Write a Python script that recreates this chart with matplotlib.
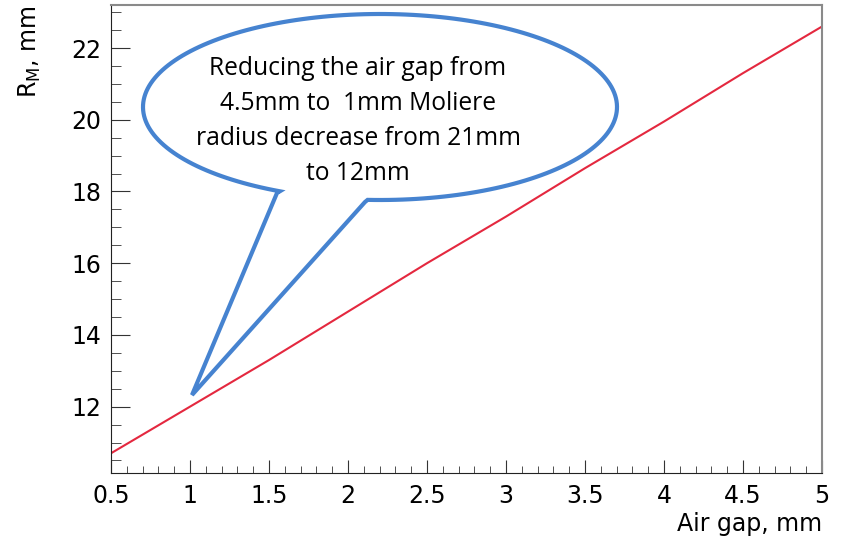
import numpy as np
import matplotlib
matplotlib.use("Agg")
import matplotlib.pyplot as plt
from matplotlib.path import Path
from matplotlib.patches import PathPatch

# data
air_gap = [0.5, 1.0, 1.5, 2.0, 2.5, 3.0, 3.5, 4.0, 4.5, 5.0]
r_moliere = [10.7, 12.0, 13.3, 14.65, 16.0, 17.3, 18.65, 19.95, 21.3, 22.6]
x_ticks = [0.5, 1, 1.5, 2, 2.5, 3, 3.5, 4, 4.5, 5]
x_ticklabels = ["0.5", "1", "1.5", "2", "2.5", "3", "3.5", "4", "4.5", "5"]
y_ticks = [12, 14, 16, 18, 20, 22]
bubble_lines = ["Reducing the air gap from", "4.5mm to  1mm Moliere",
                "radius decrease from 21mm", "to 12mm"]

W, H = 851, 541
fig = plt.figure(figsize=(W / 100, H / 100), dpi=100)
ax = fig.add_axes([111 / W, 1 - 473 / H, 711 / W, 468 / H])

ax.plot(air_gap, r_moliere, color="#e4283f", lw=1.5)
ax.set_xlim(0.5, 5)
ax.set_ylim(10.15, 23.2)

ax.set_xticks(x_ticks)
ax.set_xticklabels(x_ticklabels)
ax.set_xticks(np.arange(0.5, 5.001, 0.1), minor=True)
ax.set_yticks(y_ticks)
ax.set_yticks(np.arange(10.5, 23.01, 0.5), minor=True)
ax.tick_params(axis="both", which="both", direction="in", labelsize=17, color="#333333")
ax.tick_params(axis="x", which="major", length=9.5, pad=8)
ax.tick_params(axis="x", which="minor", length=5)
ax.tick_params(axis="y", which="major", length=14, pad=7)
ax.tick_params(axis="y", which="minor", length=7)
for s in ["left", "bottom"]:
    ax.spines[s].set_color("#222222")
for s in ["top", "right"]:
    ax.spines[s].set_color("#8a8a8a")
    ax.spines[s].set_linewidth(1.5)

# axis titles (ROOT style, at the ends)
ax.text(1.0, -0.083, "Air gap, mm", transform=ax.transAxes, ha="right", va="top", fontsize=17)
plt.rcParams["mathtext.default"] = "regular"
ax.text(-0.114, 1.0, r"R$_{M}$, mm", transform=ax.transAxes, rotation=90,
        ha="center", va="top", fontsize=17)

# speech bubble drawn in pixel space, converted to figure fraction
cx, cy, a, b = 380, 107, 237, 93
t = np.radians(np.linspace(115, 453, 200))
px = list(cx + a * np.cos(t)) + [365, 192, 277]
py = list(cy + b * np.sin(t)) + [202, 395, 193]
verts = [(x / W, 1 - y / H) for x, y in zip(px, py)]
verts.append(verts[0])
codes = [Path.MOVETO] + [Path.LINETO] * (len(verts) - 2) + [Path.CLOSEPOLY]
bubble = PathPatch(Path(verts, codes), transform=fig.transFigure, facecolor="white",
                   edgecolor="#4683d0", lw=3, joinstyle="miter")
fig.patches.append(bubble)

fig.text(358 / W, 1 - 121 / H, "\n".join(bubble_lines), ha="center", va="center",
         fontsize=17.7, family="Open Sans", linespacing=1.52)

fig.savefig("out.png", dpi=100)
